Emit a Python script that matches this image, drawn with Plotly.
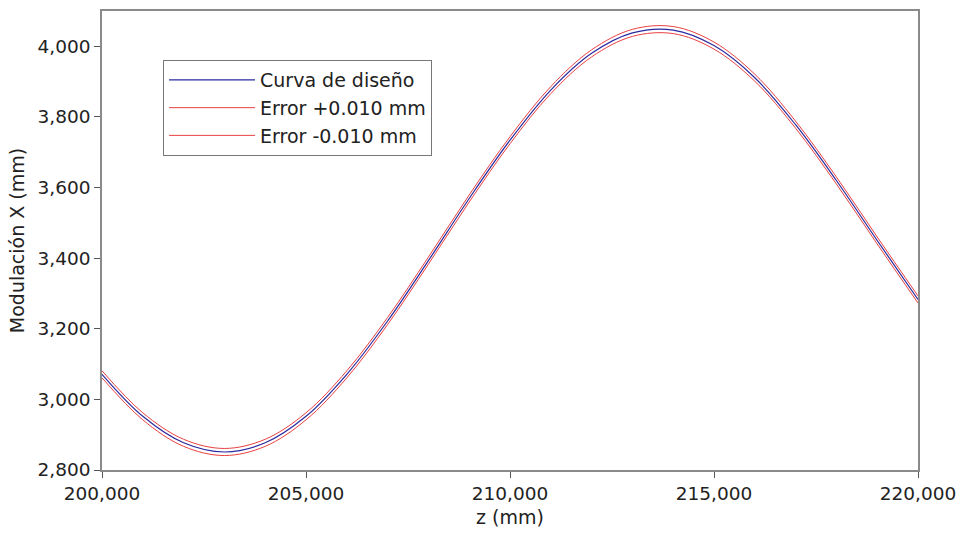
import plotly.graph_objects as go

z_mm = [200, 201, 202, 203, 204, 205, 206, 207, 208, 209, 210,
        211, 212, 213, 214, 215, 216, 217, 218, 219, 220]
curva_diseno = [3.071, 2.952, 2.877, 2.851, 2.877, 2.952, 3.071, 3.222, 3.393, 3.569, 3.734,
                3.876, 3.980, 4.038, 4.046, 4.002, 3.911, 3.778, 3.620, 3.450, 3.283]
error_mas = [3.081, 2.962, 2.887, 2.861, 2.887, 2.962, 3.081, 3.232, 3.403, 3.579, 3.744,
             3.886, 3.990, 4.048, 4.056, 4.012, 3.921, 3.788, 3.630, 3.460, 3.293]
error_menos = [3.061, 2.942, 2.867, 2.841, 2.867, 2.942, 3.061, 3.212, 3.383, 3.559, 3.724,
               3.866, 3.970, 4.028, 4.036, 3.992, 3.901, 3.768, 3.610, 3.440, 3.273]
x_ticks = [200, 205, 210, 215, 220]
y_ticks = [2.8, 3.0, 3.2, 3.4, 3.6, 3.8, 4.0]

FONT = "DejaVu Sans"
BLUE = "#2a2aa0"
RED = "#e8403f"

fig = go.Figure()
fig.add_trace(go.Scatter(x=z_mm, y=curva_diseno, mode="lines", name="Curva de diseño",
                         line=dict(color=BLUE, width=1.2, shape="spline")))
fig.add_trace(go.Scatter(x=z_mm, y=error_mas, mode="lines", name="Error +0.010 mm",
                         line=dict(color=RED, width=1, shape="spline")))
fig.add_trace(go.Scatter(x=z_mm, y=error_menos, mode="lines", name="Error -0.010 mm",
                         line=dict(color=RED, width=1, shape="spline")))

axis_common = dict(showgrid=False, zeroline=False, showline=True, linecolor="#8a8a8a",
                   linewidth=1.5, mirror=True, ticks="outside", ticklen=6, tickcolor="#555555",
                   tickformat=".3f", tickfont=dict(family=FONT, size=18.5, color="#222222"))

fig.update_layout(
    width=958, height=533,
    margin=dict(l=102, r=40, t=11, b=63, autoexpand=False),
    paper_bgcolor="white", plot_bgcolor="white",
    separators=",.",
    font=dict(family=FONT, size=18, color="#222222"),
    xaxis=dict(range=[200, 220], tickvals=x_ticks, automargin=False,
               title=dict(text="z (mm)", font=dict(family=FONT, size=19), standoff=8),
               **axis_common),
    yaxis=dict(range=[2.8, 4.1], tickvals=y_ticks, automargin=False,
               title=dict(text="Modulación X (mm)", font=dict(family=FONT, size=19), standoff=8),
               **axis_common),
    legend=dict(x=0.0748, y=0.893, xanchor="left", yanchor="top",
                bgcolor="white", bordercolor="#777777", borderwidth=1,
                font=dict(family=FONT, size=19, color="#222222"),
                itemwidth=86, tracegroupgap=0),
    showlegend=True,
)

fig.write_html("out.html", config={"displayModeBar": False},
               post_script="document.body.style.margin='0';document.body.style.overflow='hidden';")
